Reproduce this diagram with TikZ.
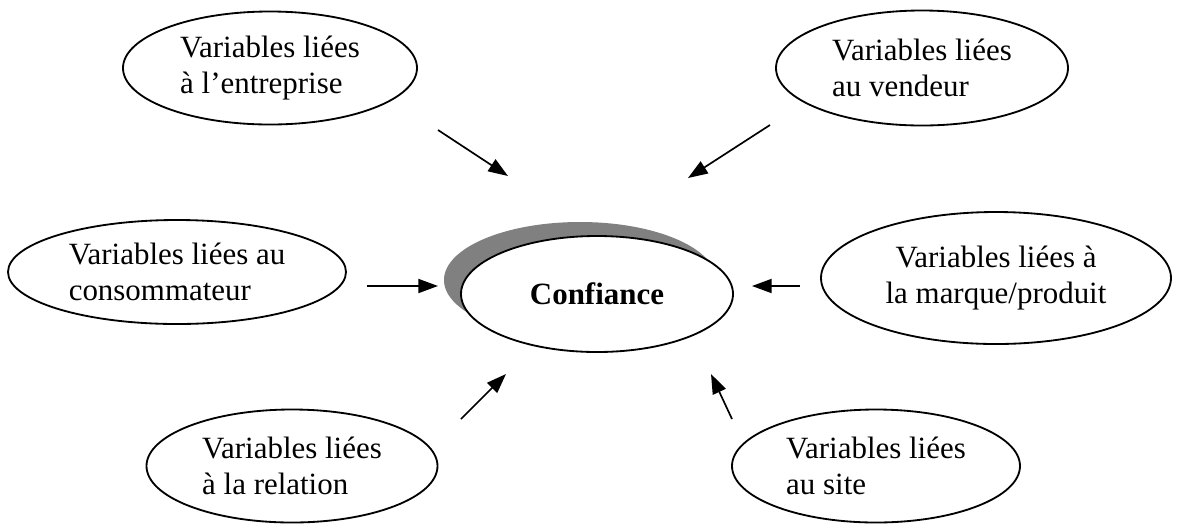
\documentclass[tikz,border=0pt]{standalone}
\usepackage{fontspec}
\setmainfont{Liberation Serif}
\usetikzlibrary{shapes.geometric,arrows.meta}
\tikzset{
  var/.style={ellipse, draw, line width=1.3pt, fill=white, inner sep=0pt,
    align=left, font=\fontsize{22}{25.5}\selectfont},
  tip/.style={line width=1.2pt, -{Triangle[length=14pt,width=10pt]}}
}
\begin{document}
\begin{tikzpicture}[x=0.025cm, y=-0.025cm]
      \useasboundingbox (0,0) rectangle (1180,529);
      \fill[black!50] (580,280) ellipse [x radius=136, y radius=58];
      \draw
        (270,68) node[var, minimum width=294*0.025cm, minimum height=113*0.025cm] (ent){Variables liées\\à l’entreprise}
        (922,68) node[var, minimum width=292*0.025cm, minimum height=115*0.025cm] (ven){Variables liées\\au vendeur}
        (177,272) node[var, minimum width=338*0.025cm, minimum height=104*0.025cm] (con){Variables liées au\\consommateur}
        (597,294) node[var, align=center, minimum width=272*0.025cm, minimum height=116*0.025cm] (conf){\textbf{Confiance}}
        (996,278) node[var, align=center, minimum width=350*0.025cm, minimum height=132*0.025cm] (mar){Variables liées à\\la marque/produit}
        (292,466) node[var, minimum width=291*0.025cm, minimum height=113*0.025cm] (rel){Variables liées\\à la relation}
        (876,466) node[var, minimum width=288*0.025cm, minimum height=113*0.025cm] (site){Variables liées\\au site};
      \coordinate (a1) at (438,130);
      \coordinate (b1) at (508,176);
      \coordinate (a2) at (770,125);
      \coordinate (b2) at (688,178);
      \coordinate (a3) at (367,286);
      \coordinate (b3) at (438,286);
      \coordinate (a4) at (800,286);
      \coordinate (b4) at (752,286);
      \coordinate (a5) at (461,419);
      \coordinate (b5) at (506,374);
      \coordinate (a6) at (732,419);
      \coordinate (b6) at (711,374);
      \begin{scope}[tip]
        \draw (a1) to (b1);
        \draw (a2) to (b2);
        \draw (a3) to (b3);
        \draw (a4) to (b4);
        \draw (a5) to (b5);
        \draw (a6) to (b6);
      \end{scope}
    \end{tikzpicture}
\end{document}
